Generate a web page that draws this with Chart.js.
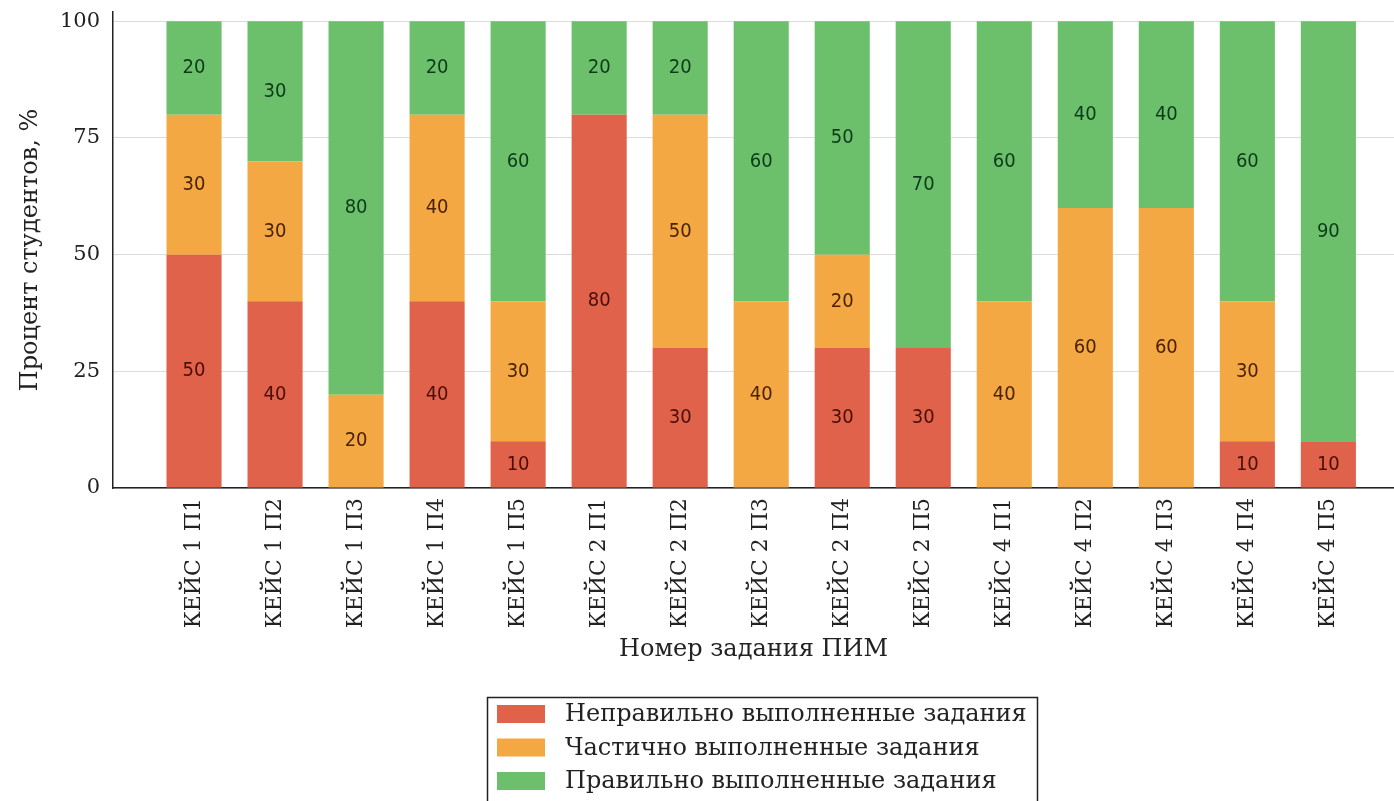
<!DOCTYPE html>
<html><head><meta charset="utf-8">
<script src="https://cdn.jsdelivr.net/npm/chart.js@4"></script>
<style>html,body{margin:0;padding:0;background:#fff;overflow:hidden}#wrap{width:1394px;height:801px}</style>
</head><body><div id="wrap"><canvas id="c" width="1394" height="801"></canvas></div>
<script>
const categories = ["КЕЙС 1 П1","КЕЙС 1 П2","КЕЙС 1 П3","КЕЙС 1 П4","КЕЙС 1 П5","КЕЙС 2 П1","КЕЙС 2 П2","КЕЙС 2 П3","КЕЙС 2 П4","КЕЙС 2 П5","КЕЙС 4 П1","КЕЙС 4 П2","КЕЙС 4 П3","КЕЙС 4 П4","КЕЙС 4 П5"];
const incorrect = [50,40,0,40,10,80,30,0,30,30,0,0,0,10,10];
const partial   = [30,30,20,40,30,0,50,40,20,0,40,60,60,30,0];
const correct   = [20,30,80,20,60,20,20,60,50,70,60,40,40,60,90];
const seriesNames = ["Неправильно выполненные задания","Частично выполненные задания","Правильно выполненные задания"];
const yTicks = [0,25,50,75,100];

const colors = ["#E1624A","#F4A843","#6CC06C"];
const labelColors = ["#4a0e08","#4a2200","#0d3b1a"];
const serif = "'DejaVu Serif', serif";
const sansC = "'DejaVu Sans Condensed','Liberation Sans Narrow','DejaVu Sans', sans-serif";

function toXY(arr){ return arr.map((v,i)=>({x:i,y:v})); }

const valueLabels = {
  id:'valueLabels',
  afterDatasetsDraw(chart){
    const ctx = chart.ctx;
    ctx.save();
    ctx.font = "20px " + sansC;
    ctx.textAlign = 'center';
    ctx.textBaseline = 'middle';
    chart.data.datasets.forEach((ds,di)=>{
      const meta = chart.getDatasetMeta(di);
      meta.data.forEach((el,i)=>{
        const v = ds.data[i].y;
        if(!v) return;
        const p = el.getProps(['x','y','base'],true);
        ctx.fillStyle = labelColors[di];
        ctx.fillText(String(v), p.x, (p.y+p.base)/2);
      });
    });
    ctx.restore();
  }
};

const boxLegend = {
  id:'boxLegend',
  afterDraw(chart){
    const ctx = chart.ctx;
    ctx.save();
    const bx=487, by=697, bw=550, bh=120;
    ctx.strokeStyle = '#222';
    ctx.lineWidth = 1.5;
    ctx.strokeRect(bx+0.5, by+0.5, bw, bh);
    ctx.font = "24px " + serif;
    ctx.textBaseline = 'middle';
    ctx.textAlign = 'left';
    chart.data.datasets.forEach((ds,di)=>{
      const cy = 714 + di*33.5;
      ctx.fillStyle = ds.backgroundColor;
      ctx.fillRect(497, cy-9, 48, 18);
      ctx.fillStyle = '#222';
      ctx.fillText(ds.label, 565, cy+1);
    });
    ctx.restore();
  }
};

new Chart(document.getElementById('c'), {
  type:'bar',
  data:{
    datasets:[
      {label:seriesNames[0], data:toXY(incorrect), backgroundColor:colors[0]},
      {label:seriesNames[1], data:toXY(partial), backgroundColor:colors[1]},
      {label:seriesNames[2], data:toXY(correct), backgroundColor:colors[2]}
    ].map(d=>Object.assign(d,{barPercentage:0.85,categoryPercentage:0.8,borderWidth:0}))
  },
  options:{
    responsive:false,
    animation:false,
    layout:{padding:{left:16,top:12,right:0,bottom:137}},
    plugins:{legend:{display:false},tooltip:{enabled:false}},
    scales:{
      x:{
        type:'linear', stacked:true, min:-1, max:14.81, offset:false,
        afterBuildTicks(s){ s.ticks = categories.map((c,i)=>({value:i})); },
        afterFit(s){ s.height = 176; s.paddingLeft = 0; s.paddingRight = 0; },
        grid:{display:false, drawTicks:false},
        border:{display:true,color:'#222',width:1.5},
        ticks:{autoSkip:false, minRotation:90, maxRotation:90, padding:10, color:'#222',
          font:{family:serif,size:22}, callback:(v)=>categories[v]},
        title:{display:true,text:'Номер задания ПИМ',color:'#222',font:{family:serif,size:24},padding:0}
      },
      y:{
        stacked:true, min:0, max:102,
        afterBuildTicks(s){ s.ticks = yTicks.map(v=>({value:v})); },
        afterFit(s){ s.width = 97; s.paddingTop = 0; s.paddingBottom = 0; },
        grid:{color:'#dcdcdc', lineWidth:1, drawTicks:false},
        border:{display:true,color:'#222',width:1.5},
        ticks:{padding:13,color:'#222',font:{family:serif,size:21}},
        title:{display:true,text:'Процент студентов, %',color:'#222',font:{family:serif,size:24},padding:0}
      }
    }
  },
  plugins:[valueLabels, boxLegend]
});
</script></body></html>
